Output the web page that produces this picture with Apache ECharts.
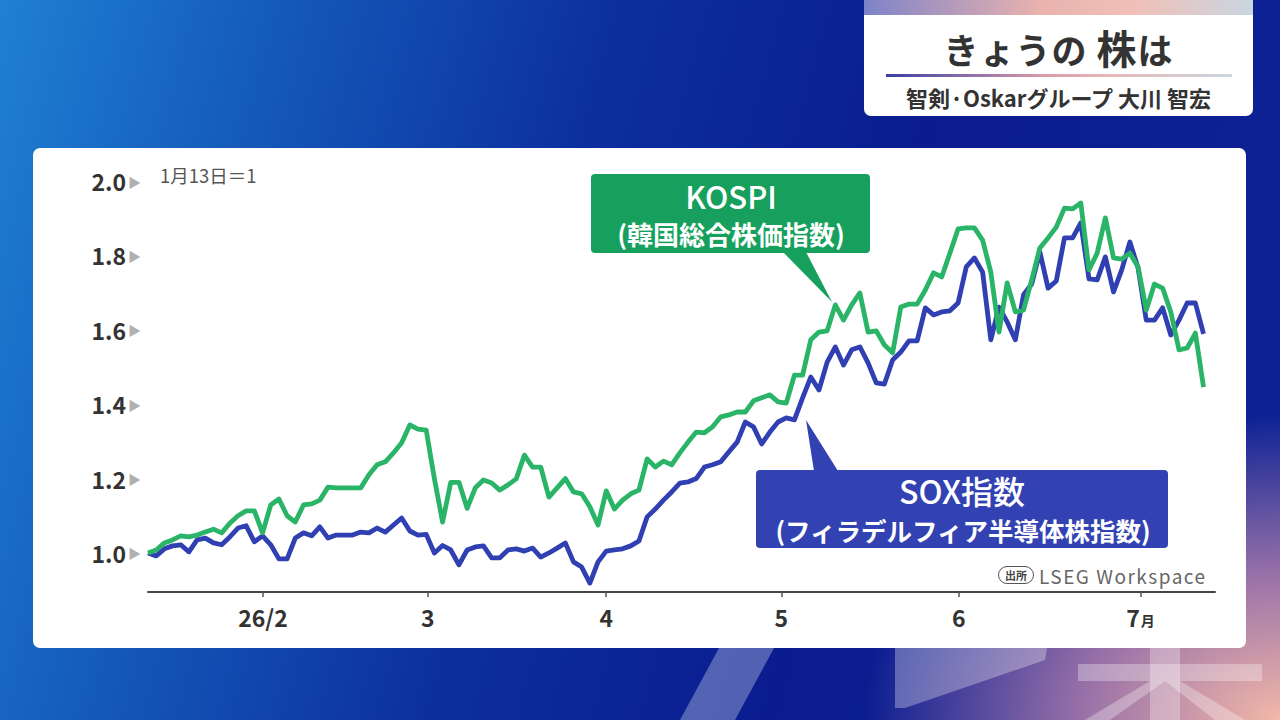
<!DOCTYPE html>
<html>
<head>
<meta charset="utf-8">
<script src="https://cdn.jsdelivr.net/npm/echarts@6/dist/echarts.min.js"></script>
<style>
html,body{margin:0;padding:0;width:1280px;height:720px;overflow:hidden;font-family:'Noto Sans CJK JP','Noto Sans',sans-serif;}
body{background:
 radial-gradient(ellipse 520px 380px at 100% 100%, rgba(243,184,168,1) 0%, rgba(200,140,175,0.75) 38%, rgba(40,45,150,0) 80%),
 linear-gradient(105deg,#1f80d3 0%,#155cbb 18%,#0c2f9f 42%,#0a1c90 65%,#0f2396 100%);}
#wm{position:absolute;left:0;top:0;width:1280px;height:720px;}
#panel{position:absolute;left:33px;top:148px;width:1213px;height:500px;background:#fff;border-radius:7px;}
#titlebox{position:absolute;left:864px;top:0;width:389px;height:116px;background:#fff;border-radius:0 0 7px 7px;overflow:hidden;}
#strip{position:absolute;left:0;top:0;width:100%;height:15px;background:linear-gradient(90deg,#7d83c8 0%,#e9b2ae 45%,#f0c0b8 70%,#c9d6e2 100%);}
#ttl{position:absolute;left:0;top:21px;width:100%;text-align:center;font-weight:700;font-size:35px;color:#333;line-height:52px;letter-spacing:1px;}
#ttl span{font-size:40px;}
#uline{position:absolute;left:22px;top:74px;width:346px;height:3px;background:linear-gradient(90deg,#3a3fa6 0%,#d79aa8 45%,#e9b8b6 65%,#c9d7e1 100%);}
#sub{position:absolute;left:0;top:82px;width:100%;text-align:center;font-weight:700;font-size:22px;color:#333;line-height:30px;}
#chart{position:absolute;left:0;top:0;width:1280px;height:720px;}
#src{position:absolute;left:998px;top:563px;height:24px;display:flex;align-items:center;white-space:nowrap;}
#src .box{border:1.4px solid #555;border-radius:9px;font-size:11px;font-weight:700;color:#444;padding:0 6px;line-height:16px;margin-right:5px;}
#src .t{font-size:19px;color:#666;letter-spacing:1.5px;}
</style>
</head>
<body>
<svg id="wm" viewBox="0 0 1280 720">
  <g fill="#ffffff" fill-opacity="0.3">
    <polygon points="745,600 800,600 735,720 680,720"/>
    <polygon points="895,600 1055,600 1045,660 905,708 895,708"/>
    <polygon points="1078,664 1262,664 1262,681 1078,681"/>
    <polygon points="1150,560 1180,560 1180,720 1150,720"/>
    <polygon points="1150,681 1165,681 1110,720 1085,720"/>
    <polygon points="1165,681 1180,681 1245,720 1215,720"/>
  </g>
</svg>
<div id="panel"></div>
<div id="titlebox"><div id="strip"></div><div id="ttl">きょうの <span>株</span>は</div><div id="uline"></div><div id="sub">智剣·Oskarグループ 大川 智宏</div></div>
<div id="chart"></div>
<div id="src"><span class="box">出所</span><span class="t">LSEG Workspace</span></div>
<script>
// KOSPI (green), index 1/13 = 1, one value per trading day
const kospi = [
1.000,1.008,1.027,1.035,1.046,1.043,1.048,1.056,1.064,1.054,
1.080,1.100,1.113,1.113,1.054,1.129,1.145,1.100,1.083,1.129,
1.132,1.142,1.177,1.175,1.175,1.175,1.175,1.210,1.237,1.245,
1.269,1.296,1.344,1.333,1.330,1.200,1.083,1.190,1.190,1.120,
1.175,1.196,1.188,1.169,1.183,1.199,1.263,1.231,1.231,1.150,
1.175,1.200,1.164,1.159,1.124,1.075,1.167,1.118,1.142,1.159,
1.169,1.253,1.231,1.247,1.237,1.269,1.298,1.325,1.323,1.339,
1.366,1.371,1.379,1.379,1.409,1.417,1.425,1.406,1.403,1.478,
1.478,1.573,1.594,1.597,1.667,1.626,1.667,1.699,1.594,1.597,
1.559,1.538,1.661,1.669,1.669,1.707,1.753,1.742,1.806,1.871,
1.874,1.874,1.841,1.755,1.594,1.726,1.648,1.653,1.734,1.820,
1.847,1.876,1.927,1.925,1.941,1.761,1.806,1.901,1.793,1.790,
1.806,1.769,1.653,1.723,1.712,1.648,1.546,1.551,1.591,1.446];
// SOX (blue)
const sox = [
1.000,0.992,1.011,1.019,1.022,1.003,1.035,1.040,1.027,1.022,
1.043,1.067,1.073,1.030,1.046,1.022,0.984,0.984,1.040,1.054,
1.046,1.070,1.040,1.048,1.048,1.048,1.056,1.054,1.067,1.056,
1.075,1.094,1.059,1.048,1.050,1.000,1.020,1.008,0.968,1.008,
1.016,1.019,0.987,0.987,1.008,1.011,1.005,1.013,0.989,1.000,
1.013,1.027,0.976,0.962,0.919,0.976,1.005,1.008,1.011,1.019,
1.032,1.097,1.118,1.142,1.164,1.188,1.191,1.200,1.231,1.237,
1.245,1.272,1.298,1.352,1.339,1.293,1.325,1.352,1.363,1.358,
1.417,1.473,1.438,1.513,1.554,1.505,1.546,1.554,1.511,1.457,
1.454,1.519,1.540,1.570,1.570,1.659,1.640,1.648,1.651,1.672,
1.769,1.793,1.755,1.573,1.661,1.621,1.573,1.694,1.723,1.809,
1.712,1.731,1.847,1.847,1.887,1.737,1.734,1.796,1.702,1.761,
1.836,1.766,1.626,1.626,1.659,1.586,1.626,1.672,1.672,1.589];
// month ticks (position in trading-day index) and labels
const monthTickPos = [14.06, 34.2, 56.0, 77.4, 99.1, 121.3];
const monthTickLabels = ['26/2', '3', '4', '5', '6', '7月'];
const yTicks = [1.0, 1.2, 1.4, 1.6, 1.8, 2.0];

const chart = echarts.init(document.getElementById('chart'), null, {renderer: 'svg'});
const FONT = "'Noto Sans CJK JP','Noto Sans',sans-serif";
const GREEN = '#29b467', BLUE = '#3040b2';

function nearestLabel(v) {
  let best = 0;
  monthTickPos.forEach((p, i) => { if (Math.abs(p - v) < Math.abs(monthTickPos[best] - v)) best = i; });
  const s = monthTickLabels[best];
  if (s.endsWith('月')) return '{m|' + s.slice(0, -1) + '}{u|月}';
  return '{m|' + s + '}';
}

chart.setOption({
  backgroundColor: 'transparent',
  animation: false,
  textStyle: {fontFamily: FONT},
  grid: {left: 148, right: 65, top: 181, bottom: 128},
  xAxis: {
    type: 'value', min: 0, max: 130.4,
    splitLine: {show: false},
    axisLine: {show: true, lineStyle: {color: '#444', width: 2}},
    axisTick: {show: true, customValues: monthTickPos, length: 5, lineStyle: {color: '#555', width: 1.5}},
    axisLabel: {
      customValues: monthTickPos, margin: 13,
      formatter: (v) => nearestLabel(v),
      rich: {
        m: {fontSize: 23, fontWeight: 'bold', color: '#333', fontFamily: FONT},
        u: {fontSize: 14, fontWeight: 'bold', color: '#333', fontFamily: FONT, padding: [7, 0, 0, 1]}
      }
    }
  },
  yAxis: {
    type: 'value', min: 0.895, max: 2.0,
    splitLine: {show: false},
    axisLine: {show: false},
    axisTick: {show: false},
    axisLabel: {
      customValues: yTicks, margin: 7,
      formatter: (v) => '{v|' + v.toFixed(1) + '}{t|▶}',
      rich: {
        v: {fontSize: 23, fontWeight: 'bold', color: '#333', fontFamily: FONT},
        t: {fontSize: 13, color: '#b0b0b0', padding: [0, 0, 0, 2]}
      }
    }
  },
  series: [
    {type: 'line', name: 'SOX', data: sox.map((v, i) => [i, v]), showSymbol: false,
     lineStyle: {color: BLUE, width: 4.8, join: 'round'}, z: 3},
    {type: 'line', name: 'KOSPI', data: kospi.map((v, i) => [i, v]), showSymbol: false,
     lineStyle: {color: GREEN, width: 4.8, join: 'round'}, z: 4}
  ],
  graphic: [
    {type: 'text', left: 160, top: 166, z: 10,
     style: {text: '1月13日＝1', fontSize: 18.5, fill: '#555', fontFamily: FONT}},
    // KOSPI callout
    {type: 'polygon', z: 20, shape: {points: [[783, 252], [806, 252], [832, 302]]}, style: {fill: '#17a05d'}},
    {type: 'rect', z: 20, shape: {x: 591, y: 174, width: 279, height: 79, r: 4}, style: {fill: '#17a05d'}},
    {type: 'text', z: 21, x: 731, y: 195,
     style: {text: 'KOSPI', fontSize: 31, lineHeight: 31, fill: '#fff', fontFamily: FONT, fontWeight: 500, align: 'center', verticalAlign: 'middle'}},
    {type: 'text', z: 21, x: 731, y: 233,
     style: {text: '(韓国総合株価指数)', fontSize: 26, lineHeight: 26, fill: '#fff', fontFamily: FONT, fontWeight: 'bold', align: 'center', verticalAlign: 'middle'}},
    // SOX callout
    {type: 'polygon', z: 20, shape: {points: [[806, 420], [814, 471], [838, 471]]}, style: {fill: '#3342b3'}},
    {type: 'rect', z: 20, shape: {x: 756, y: 470, width: 412, height: 78, r: 4}, style: {fill: '#3342b3'}},
    {type: 'text', z: 21, x: 962, y: 490,
     style: {text: 'SOX指数', fontSize: 32, lineHeight: 32, fill: '#fff', fontFamily: FONT, fontWeight: 500, align: 'center', verticalAlign: 'middle'}},
    {type: 'text', z: 21, x: 963, y: 529,
     style: {text: '(フィラデルフィア半導体株指数)', fontSize: 25.5, lineHeight: 26, fill: '#fff', fontFamily: FONT, fontWeight: 'bold', align: 'center', verticalAlign: 'middle'}}
  ]
});
</script>
</body>
</html>
